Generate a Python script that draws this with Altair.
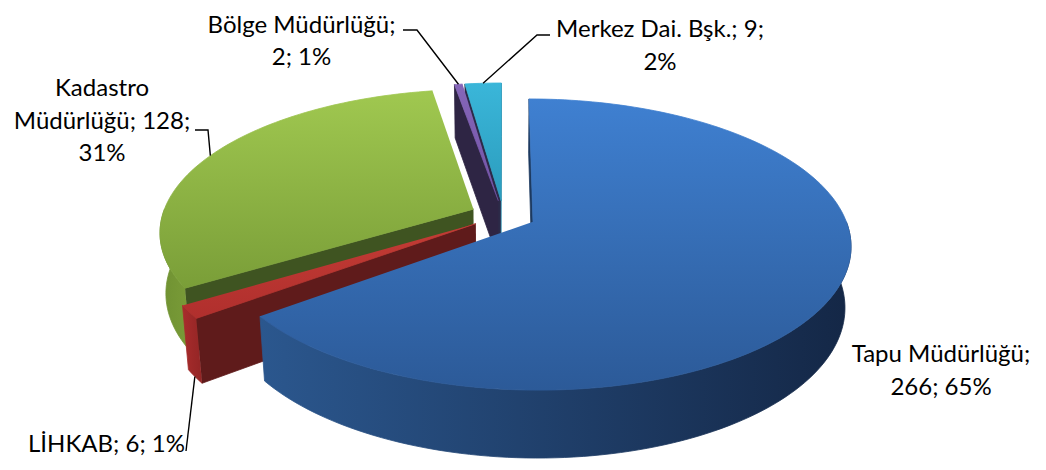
import math
import altair as alt
import pandas as pd

# ---------------- data ----------------
names = ["Tapu Müdürlüğü", "LİHKAB", "Kadastro Müdürlüğü", "Bölge Müdürlüğü", "Merkez Dai. Bşk."]
values = [266, 6, 128, 2, 9]
percents = [65, 1, 31, 1, 2]

# ---------------- layout / style ----------------
W, H = 1030, 454
OX, OY = 503.3, 215.2          # screen position of pie centre (page px)
FOC, DIST = 1798.0, 5.78       # perspective focal length / camera distance (radius = 1)
CPHI, SPHI = 0.893, 0.45       # cos / sin of view elevation
EXPL, THICK = 0.106, 0.22      # explosion and thickness (in radii)

label_words_per_line = [[2, 2], [3], [1, 2, 1], [2, 2], [4, 1]]
label_pos = [(941, 362), (106.5, 452), (102, 96), (301.5, 32.5), (660, 37)]
leader_fixed = [[], [(186, 451)], [(195, 130), (208, 130)], [(403, 30), (417, 30)], [(550, 35), (537, 35)]]
leader_level = [0, 1, 0, 0, 0]
has_leader = [False, True, True, True, True]

top_col = [("#3f80d1", "#2c5a98"), ("#c43c35", "#b02f2d"), ("#a0c850", "#7a9e38"),
           ("#8566b8", "#7353a6"), ("#3ab6d9", "#2b9cbd")]
rim_col = [("#2b578e", "#142746"), ("#a82c2c", "#932525"), ("#6f9132", "#7a9c38"),
           ("#2e2544", "#2e2544"), ("#2a8fae", "#2a8fae")]
start_col = ["#1d3a60", "#5f1b1b", "#3f5421", "#2e2544", "#2c2a48"]
end_col = ["#1d3a60", "#5f1b1b", "#3f5421", "#2e2544", "#2a8fae"]

# ---------------- stacking (fractions of the whole) ----------------
total = sum(values)
s0, s1, acc = [], [], 0
for v in values:
    s0.append(acc / total)
    acc += v
    s1.append(acc / total)


def visible_face(a_deg, w_frac):
    a = math.radians(a_deg)
    return -DIST * CPHI * math.cos(a) + EXPL * math.sin(math.pi * w_frac) > 1e-6


def front_key(i):
    m = math.pi * (s0[i] + s1[i])
    oz = EXPL * math.cos(m)
    zs = [oz] + [oz + math.cos(2 * math.pi * (s0[i] + (s1[i] - s0[i]) * j / 50)) for j in range(51)]
    return min(zs)


order = sorted(range(len(values)), key=front_key, reverse=True)

rows = []
polys = []  # (poly id, fill, stroke)


def add(pid, i, f, apex, lvl, k):
    rows.append(dict(poly=pid, s0=s0[i], s1=s1[i], f=f, apex=apex, lvl=lvl, k=k))


def grad(c1, c2, vertical=True):
    return alt.Gradient(gradient="linear",
                        stops=[alt.GradientStop(color=c1, offset=0), alt.GradientStop(color=c2, offset=1)],
                        x1=0, y1=0, x2=0 if vertical else 1, y2=1 if vertical else 0)


for i in order:
    a0, a1 = s0[i], s1[i]
    w = a1 - a0
    # radial faces
    for part, fr, ang, col in (("start", a0, a0 * 360 - 90, start_col[i]), ("end", a1, a1 * 360 + 90, end_col[i])):
        if visible_face(ang, w):
            pid = f"{i}-{part}"
            add(pid, i, fr, 1, 0, 0)
            add(pid, i, fr, 0, 0, 1)
            add(pid, i, fr, 0, 1, 2)
            add(pid, i, fr, 1, 1, 3)
            polys.append((pid, col, col))
    # outer wall (front half only)
    lo, hi = max(a0, 0.25), min(a1, 0.75)
    if lo < hi:
        pid = f"{i}-rim"
        n = max(4, int((hi - lo) * 360 / 1.5))
        k = 0
        for j in range(n + 1):
            add(pid, i, lo + (hi - lo) * j / n, 0, 0, k); k += 1
        for j in range(n, -1, -1):
            add(pid, i, lo + (hi - lo) * j / n, 0, 1, k); k += 1
        g = grad(rim_col[i][0], rim_col[i][1], vertical=False)
        polys.append((pid, g, g))
    # top face
    pid = f"{i}-top"
    n = max(4, int(w * 360 / 1.5))
    add(pid, i, a0, 1, 0, 0)
    for j in range(n + 1):
        add(pid, i, a0 + w * j / n, 0, 0, j + 1)
    g = grad(top_col[i][0], top_col[i][1], vertical=True)
    polys.append((pid, g, g))

verts = pd.DataFrame(rows)

# leader lines
lrows = []
for i in range(len(values)):
    if not has_leader[i]:
        continue
    k = 0
    for (fx, fy) in leader_fixed[i]:
        lrows.append(dict(line=i, s0=s0[i], s1=s1[i], f=(s0[i] + s1[i]) / 2, apex=0, lvl=leader_level[i], k=k, fx=fx, fy=fy))
        k += 1
    lrows.append(dict(line=i, s0=s0[i], s1=s1[i], f=(s0[i] + s1[i]) / 2, apex=0, lvl=leader_level[i], k=k, fx=None, fy=None))
leaders = pd.DataFrame(lrows)

# labels
trows = []
for i in range(len(values)):
    words = f"{names[i]}; {values[i]}; {percents[i]}%".split(" ")
    lines, p = [], 0
    for cnt in label_words_per_line[i]:
        lines.append(" ".join(words[p:p + cnt]))
        p += cnt
    trows.append(dict(text="\n".join(lines), x=label_pos[i][0], y=label_pos[i][1]))
texts = pd.DataFrame(trows)

# ---------------- projection (Vega expressions) ----------------
proj = [
    ("m", "PI*(datum.s0+datum.s1)"),
    ("t", "2*PI*datum.f"),
    ("X", f"{EXPL}*sin(datum.m)+(1-datum.apex)*sin(datum.t)"),
    ("Z", f"{EXPL}*cos(datum.m)+(1-datum.apex)*cos(datum.t)"),
    ("Yw", f"-datum.lvl*{THICK}"),
    ("d", f"{DIST}+datum.Z*{CPHI}-datum.Yw*{SPHI}"),
    ("cpx", f"{OX}+{FOC}*datum.X/datum.d"),
    ("cpy", f"{OY}-{FOC}*(datum.Z*{SPHI}+datum.Yw*{CPHI})/datum.d"),
]


def project(ch):
    for name, expr in proj:
        ch = ch.transform_calculate(**{name: expr})
    return ch


xs = alt.Scale(domain=[8, 8 + W], nice=False, zero=False)
ys = alt.Scale(domain=[8, 8 + H], nice=False, zero=False, reverse=True)

layers = []
for pid, fill, stroke in polys:
    base = project(alt.Chart(verts).transform_filter(alt.datum.poly == pid))
    layers.append(
        base.mark_line(fill=fill, stroke=stroke, strokeWidth=0.8, strokeJoin="round").encode(
            x=alt.X("cpx:Q", scale=xs, axis=None),
            y=alt.Y("cpy:Q", scale=ys, axis=None),
            order=alt.Order("k:Q"),
        )
    )

lead = project(alt.Chart(leaders)).transform_calculate(
    px="isValid(datum.fx) ? datum.fx : datum.cpx",
    py="isValid(datum.fy) ? datum.fy : datum.cpy",
).mark_line(color="black", strokeWidth=1.4).encode(
    x=alt.X("px:Q", scale=xs, axis=None),
    y=alt.Y("py:Q", scale=ys, axis=None),
    detail="line:N",
    order=alt.Order("k:Q"),
)

labels = alt.Chart(texts).mark_text(
    align="center", baseline="alphabetic", font="Lato", fontSize=24,
    lineBreak="\n", lineHeight=32.5, color="black",
).encode(
    x=alt.X("x:Q", scale=xs, axis=None),
    y=alt.Y("y:Q", scale=ys, axis=None),
    text="text:N",
)

chart = alt.layer(*layers, lead, labels).properties(
    width=W, height=H, padding=0, background="white"
).configure_view(stroke=None)

chart.save("out.html", embed_options={"renderer": "svg", "actions": False})
